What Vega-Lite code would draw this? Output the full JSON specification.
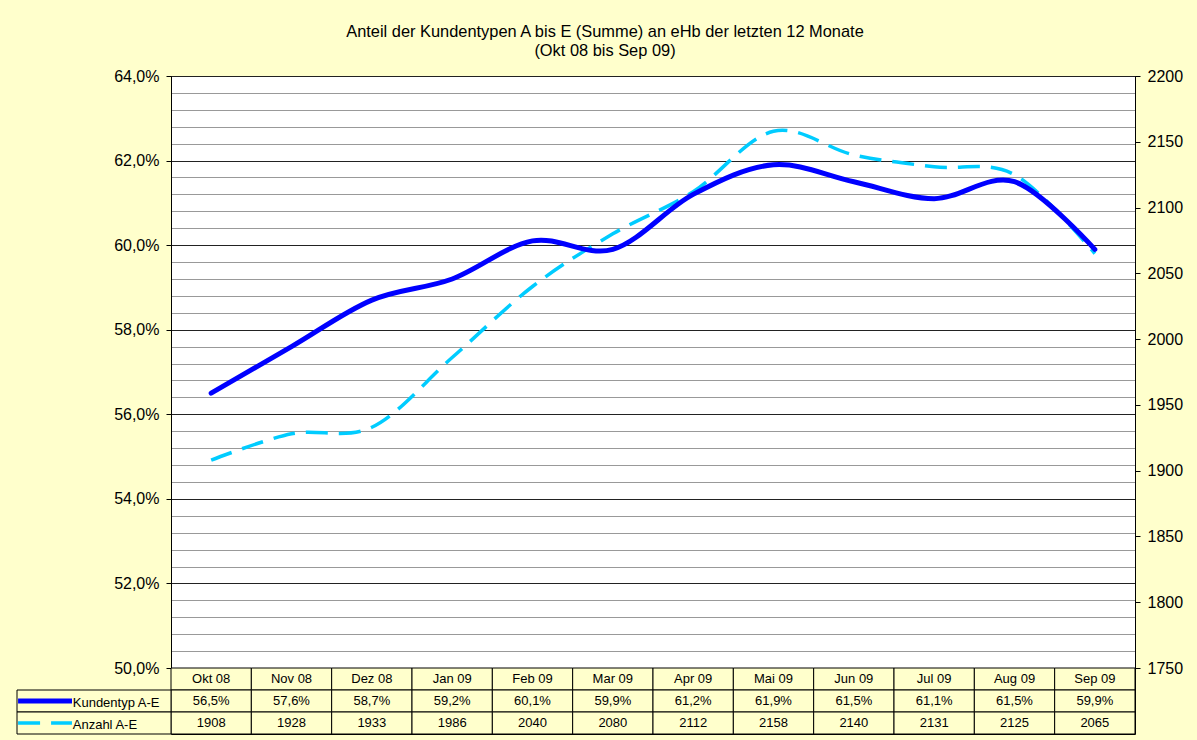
{
  "$schema": "https://vega.github.io/schema/vega-lite/v6.json",
  "autosize": {"type": "none"},
  "width": 964,
  "height": 658,
  "padding": {"left": 171, "top": 76, "right": 62, "bottom": 6},
  "background": "#FFFFCC",
  "config": {
    "font": "Liberation Sans",
    "view": {"fill": "white", "stroke": "#000000", "strokeWidth": 1},
    "locale": {"number": {"decimal": ",", "thousands": ".", "grouping": [3], "currency": ["", " €"]}}
  },
  "title": {
    "text": ["Anteil der Kundentypen A bis E (Summe) an eHb der letzten 12 Monate", "(Okt 08 bis Sep 09)"],
    "font": "Liberation Sans",
    "fontSize": 16.4,
    "fontWeight": "normal",
    "color": "#000000",
    "anchor": "middle",
    "dx": -48,
    "offset": 9,
    "lineHeight": 19
  },
  "datasets": {
    "months": [
      {"monat": "Okt 08", "anteil": 0.565, "anzahl": 1908},
      {"monat": "Nov 08", "anteil": 0.576, "anzahl": 1928},
      {"monat": "Dez 08", "anteil": 0.587, "anzahl": 1933},
      {"monat": "Jan 09", "anteil": 0.592, "anzahl": 1986},
      {"monat": "Feb 09", "anteil": 0.601, "anzahl": 2040},
      {"monat": "Mar 09", "anteil": 0.599, "anzahl": 2080},
      {"monat": "Apr 09", "anteil": 0.612, "anzahl": 2112},
      {"monat": "Mai 09", "anteil": 0.619, "anzahl": 2158},
      {"monat": "Jun 09", "anteil": 0.615, "anzahl": 2140},
      {"monat": "Jul 09", "anteil": 0.611, "anzahl": 2131},
      {"monat": "Aug 09", "anteil": 0.615, "anzahl": 2125},
      {"monat": "Sep 09", "anteil": 0.599, "anzahl": 2065}
    ],
    "series": [
      {"key": "anteil", "label": "Kundentyp A-E"},
      {"key": "anzahl", "label": "Anzahl A-E"}
    ]
  },
  "resolve": {"scale": {"x": "independent", "y": "independent", "stroke": "independent", "strokeDash": "independent", "strokeWidth": "independent"}},
  "layer": [
    {
      "data": {"name": "months"},
      "mark": {"type": "line", "interpolate": "cardinal", "color": "#00CCFF", "strokeWidth": 3.5, "strokeDash": [22, 11]},
      "encoding": {
        "x": {"field": "monat", "type": "ordinal", "sort": null, "axis": null,
              "scale": {"type": "point", "padding": 0.5, "domain": ["Okt 08","Nov 08","Dez 08","Jan 09","Feb 09","Mar 09","Apr 09","Mai 09","Jun 09","Jul 09","Aug 09","Sep 09"]}},
        "y": {"field": "anzahl", "type": "quantitative",
              "scale": {"domain": [1750, 2200], "range": [592, 0], "nice": false, "zero": false},
              "axis": {"orient": "right", "title": null, "values": [1750,1800,1850,1900,1950,2000,2050,2100,2150,2200], "format": "d",
                       "grid": false, "domainColor": "#000000", "tickColor": "#000000", "tickSize": 5, "labelPadding": 7,
                       "labelFontSize": 16, "labelColor": "#000000", "labelFont": "Liberation Sans"}}
      }
    },
    {
      "data": {"name": "months"},
      "mark": {"type": "line", "interpolate": "cardinal", "color": "#0000FF", "strokeWidth": 5, "strokeCap": "round"},
      "encoding": {
        "x": {"field": "monat", "type": "ordinal", "sort": null, "axis": null,
              "scale": {"type": "point", "padding": 0.5, "domain": ["Okt 08","Nov 08","Dez 08","Jan 09","Feb 09","Mar 09","Apr 09","Mai 09","Jun 09","Jul 09","Aug 09","Sep 09"]}},
        "y": {"field": "anteil", "type": "quantitative",
              "scale": {"domain": [0.5, 0.64], "range": [592, 0], "nice": false, "zero": false},
              "axis": {"orient": "left", "title": null, "format": ".1%",
                       "values": [0.5,0.504,0.508,0.512,0.516,0.52,0.524,0.528,0.532,0.536,0.54,0.544,0.548,0.552,0.556,0.56,0.564,0.568,0.572,0.576,0.58,0.584,0.588,0.592,0.596,0.6,0.604,0.608,0.612,0.616,0.62,0.624,0.628,0.632,0.636,0.64],
                       "labelExpr": "abs(datum.value*50 - round(datum.value*50)) < 0.001 ? datum.label : ''",
                       "grid": true,
                       "gridColor": {"condition": {"test": "abs(datum.value*50 - round(datum.value*50)) < 0.001", "value": "#222222"}, "value": "#999999"},
                       "gridOpacity": 1,
                       "tickOpacity": {"condition": {"test": "abs(datum.value*50 - round(datum.value*50)) < 0.001", "value": 1}, "value": 0},
                       "domainColor": "#000000", "tickColor": "#000000", "tickSize": 5, "labelPadding": 7,
                       "labelFontSize": 16, "labelColor": "#000000", "labelFont": "Liberation Sans"}}
      }
    },
    {
      "data": {"name": "months"},
      "transform": [{"fold": ["monat", "anteil", "anzahl"]}],
      "mark": {"type": "rect", "fill": "#FFFFCC", "stroke": "#000000", "strokeWidth": 1},
      "encoding": {
        "x": {"field": "monat", "type": "ordinal", "axis": null,
              "scale": {"type": "band", "paddingInner": 0, "paddingOuter": 0, "domain": ["Okt 08","Nov 08","Dez 08","Jan 09","Feb 09","Mar 09","Apr 09","Mai 09","Jun 09","Jul 09","Aug 09","Sep 09"]}},
        "y": {"field": "key", "type": "nominal", "axis": null,
              "scale": {"type": "band", "domain": ["monat", "anteil", "anzahl"], "range": [592, 658], "paddingInner": 0, "paddingOuter": 0}}
      }
    },
    {
      "data": {"name": "months"},
      "mark": {"type": "text", "fontSize": 13, "color": "#000000", "baseline": "middle", "align": "center"},
      "encoding": {
        "x": {"field": "monat", "type": "ordinal", "axis": null, "bandPosition": 0.5,
              "scale": {"type": "band", "paddingInner": 0, "paddingOuter": 0, "domain": ["Okt 08","Nov 08","Dez 08","Jan 09","Feb 09","Mar 09","Apr 09","Mai 09","Jun 09","Jul 09","Aug 09","Sep 09"]}},
        "y": {"datum": "monat", "type": "nominal", "axis": null, "bandPosition": 0.5,
              "scale": {"type": "band", "domain": ["monat", "anteil", "anzahl"], "range": [592, 658], "paddingInner": 0, "paddingOuter": 0}},
        "text": {"field": "monat", "type": "nominal"}
      }
    },
    {
      "data": {"name": "months"},
      "mark": {"type": "text", "fontSize": 13, "color": "#000000", "baseline": "middle", "align": "center"},
      "encoding": {
        "x": {"field": "monat", "type": "ordinal", "axis": null, "bandPosition": 0.5,
              "scale": {"type": "band", "paddingInner": 0, "paddingOuter": 0, "domain": ["Okt 08","Nov 08","Dez 08","Jan 09","Feb 09","Mar 09","Apr 09","Mai 09","Jun 09","Jul 09","Aug 09","Sep 09"]}},
        "y": {"datum": "anteil", "type": "nominal", "axis": null, "bandPosition": 0.5,
              "scale": {"type": "band", "domain": ["monat", "anteil", "anzahl"], "range": [592, 658], "paddingInner": 0, "paddingOuter": 0}},
        "text": {"field": "anteil", "type": "quantitative", "format": ".1%"}
      }
    },
    {
      "data": {"name": "months"},
      "mark": {"type": "text", "fontSize": 13, "color": "#000000", "baseline": "middle", "align": "center"},
      "encoding": {
        "x": {"field": "monat", "type": "ordinal", "axis": null, "bandPosition": 0.5,
              "scale": {"type": "band", "paddingInner": 0, "paddingOuter": 0, "domain": ["Okt 08","Nov 08","Dez 08","Jan 09","Feb 09","Mar 09","Apr 09","Mai 09","Jun 09","Jul 09","Aug 09","Sep 09"]}},
        "y": {"datum": "anzahl", "type": "nominal", "axis": null, "bandPosition": 0.5,
              "scale": {"type": "band", "domain": ["monat", "anteil", "anzahl"], "range": [592, 658], "paddingInner": 0, "paddingOuter": 0}},
        "text": {"field": "anzahl", "type": "quantitative", "format": "d"}
      }
    },
    {
      "data": {"name": "series"},
      "mark": {"type": "rect", "fill": "#FFFFCC", "stroke": "#000000", "strokeWidth": 1},
      "encoding": {
        "x": {"datum": 0, "type": "quantitative", "axis": null,
              "scale": {"domain": [0, 1], "range": [-154, 0], "nice": false, "zero": false}},
        "x2": {"datum": 1},
        "y": {"field": "key", "type": "nominal", "axis": null,
              "scale": {"type": "band", "domain": ["monat", "anteil", "anzahl"], "range": [592, 658], "paddingInner": 0, "paddingOuter": 0}}
      }
    },
    {
      "data": {"name": "series"},
      "mark": {"type": "rule"},
      "encoding": {
        "x": {"datum": 0.007, "type": "quantitative", "axis": null,
              "scale": {"domain": [0, 1], "range": [-154, 0], "nice": false, "zero": false}},
        "x2": {"datum": 0.357},
        "y": {"field": "key", "type": "nominal", "axis": null, "bandPosition": 0.5,
              "scale": {"type": "band", "domain": ["monat", "anteil", "anzahl"], "range": [592, 658], "paddingInner": 0, "paddingOuter": 0}},
        "stroke": {"field": "key", "type": "nominal", "legend": null,
                   "scale": {"domain": ["anteil", "anzahl"], "range": ["#0000FF", "#00CCFF"]}},
        "strokeWidth": {"field": "key", "type": "nominal", "legend": null,
                   "scale": {"domain": ["anteil", "anzahl"], "range": [5, 3.5]}},
        "strokeDash": {"field": "key", "type": "nominal", "legend": null,
                   "scale": {"domain": ["anteil", "anzahl"], "range": [[1, 0], [22, 11]]}}
      }
    },
    {
      "data": {"name": "series"},
      "mark": {"type": "text", "fontSize": 13, "color": "#000000", "baseline": "middle", "align": "left", "dy": 2},
      "encoding": {
        "x": {"datum": 0.362, "type": "quantitative", "axis": null,
              "scale": {"domain": [0, 1], "range": [-154, 0], "nice": false, "zero": false}},
        "y": {"field": "key", "type": "nominal", "axis": null, "bandPosition": 0.5,
              "scale": {"type": "band", "domain": ["monat", "anteil", "anzahl"], "range": [592, 658], "paddingInner": 0, "paddingOuter": 0}},
        "text": {"field": "label", "type": "nominal"}
      }
    }
  ]
}
